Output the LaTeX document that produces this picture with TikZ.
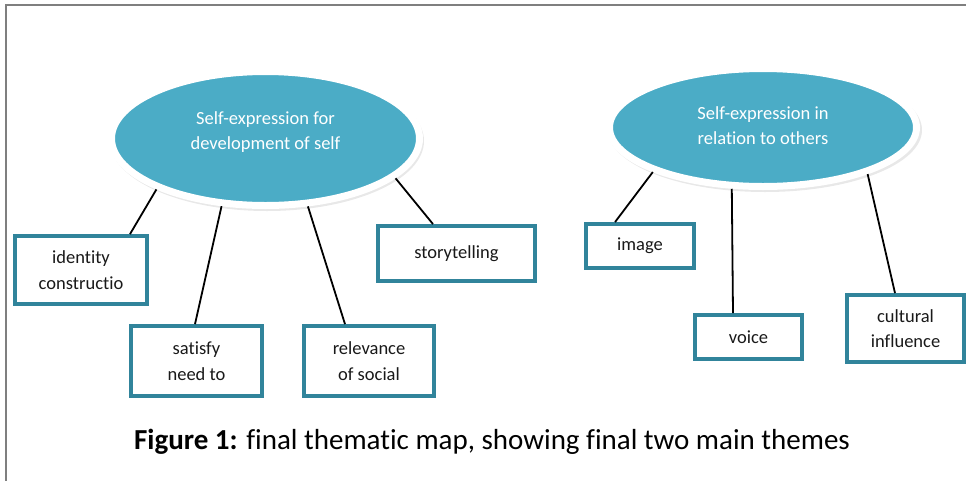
\documentclass[tikz,border=0pt]{standalone}
\usepackage{fontspec}
\setmainfont{Carlito}[Ligatures={NoCommon,TeX}]
\usetikzlibrary{shapes.geometric,calc}
\definecolor{ellfill}{HTML}{4BACC6}
\definecolor{boxline}{HTML}{31849B}
\definecolor{framegray}{HTML}{7F7F7F}
\tikzset{
  theme/.style={ellipse, fill=ellfill, draw=white, line width=7pt, inner sep=0pt},
  themetext/.style={text=white, align=center, inner sep=0pt, font=\fontsize{18.5}{25.5}\selectfont},
  themeshadow/.style={ellipse, fill=black!9, inner sep=0pt, draw=none},
  subbox/.style={rectangle, draw=boxline, line width=3.8pt, fill=white, inner sep=0pt,
     align=center, text=black!90, font=\fontsize{18.5}{25.5}\selectfont},
  link/.style={draw=black, line width=1.8pt},
}
\begin{document}
\begin{tikzpicture}[x=1pt,y=-1pt]
\useasboundingbox (0,0) rectangle (966,480);
\draw[framegray, line width=2.2pt] (6,481) -- (6,5) -- (967,5);

% shadows
\node[themeshadow, minimum width=314pt, minimum height=140pt] (Ls) at (267,141) {};
\node[themeshadow, minimum width=314pt, minimum height=124pt] (Rs) at (765,130) {};

% theme ellipses
\node[theme, minimum width=308pt, minimum height=134pt] (L) at (265.5,138.5) {};
\node[themetext] (Lt) at (265.5,132) {Self-expression for\\development of self};
\node[theme, minimum width=307pt, minimum height=118pt] (R) at (763,127.5) {};
\node[themetext] (Rt) at (763,125.5) {Self-expression in\\relation to others};

% sub-theme boxes
\node[subbox, minimum width=132pt, minimum height=68pt] (id) at (81,270) {identity\\constructio};
\node[subbox, minimum width=131pt, minimum height=70pt] (sat) at (196.5,361) {satisfy\\need to};
\node[subbox, minimum width=130pt, minimum height=70pt] (rel) at (369,361) {relevance\\of social};
\node[subbox, minimum width=157pt, minimum height=55pt] (sto) at (456.5,253.5) {storytelling};
\node[subbox, minimum width=108pt, minimum height=44pt] (img) at (640,246) {image};
\node[subbox, minimum width=107pt, minimum height=44pt] (voi) at (748.5,337) {voice};
\node[subbox, minimum width=117pt, minimum height=67pt] (cul) at (905.5,328.5) {cultural\\influence};

% connectors
\draw[link] ([xshift=49pt]id.north) -- (L.205);
\draw[link] ([xshift=-1.5pt]sat.north) -- (L.237);
\draw[link] ([xshift=-24pt]rel.north) -- (L.302);
\draw[link] ([xshift=-23.5pt]sto.north) -- (L.343.6);
\draw[link] ([xshift=-25pt]img.north) -- (R.202);
\draw[link] ([xshift=-15.5pt]voi.north) -- (R.243.9);
\draw[link] ([xshift=-10.5pt]cul.north) -- (R.336);

% caption
\node[font=\fontsize{29}{34}\selectfont, text=black, inner sep=0pt] (cap) at (492,442)
  {\textbf{Figure 1:} final thematic map, showing final two main themes};
\end{tikzpicture}
\end{document}
